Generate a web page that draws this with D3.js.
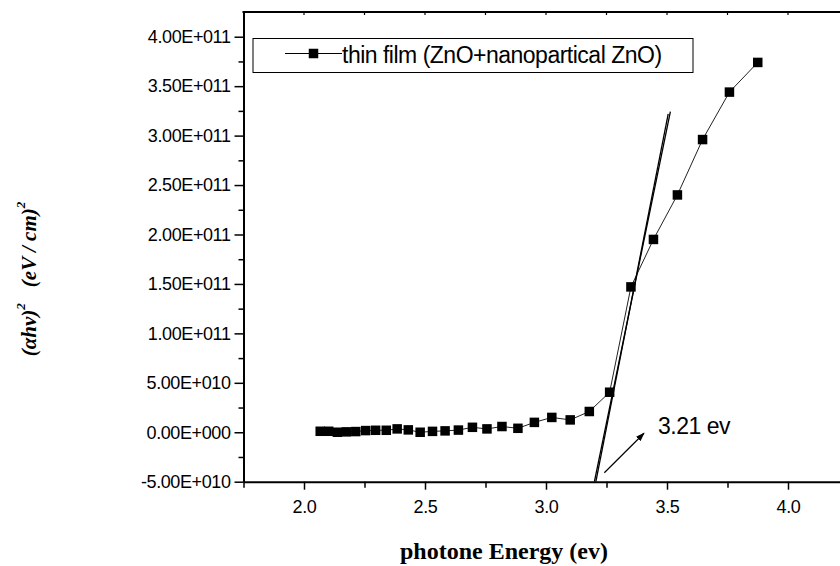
<!DOCTYPE html>
<html>
<head>
<meta charset="utf-8">
<script src="https://cdn.jsdelivr.net/npm/d3@7/dist/d3.min.js"></script>
<style>
  body { margin: 0; background: #fff; }
  svg { display: block; }
  .tick text { font-family: "Liberation Sans", Arial, sans-serif; font-size: 18px; letter-spacing: -0.4px; fill: #000; }
</style>
</head>
<body>
<script>
'use strict';

// photon energy (eV) and (alpha h nu)^2
const energy = [2.067, 2.102, 2.138, 2.175, 2.214, 2.255, 2.296, 2.340, 2.385, 2.431,
  2.480, 2.531, 2.583, 2.638, 2.696, 2.756, 2.818, 2.884, 2.952, 3.024,
  3.100, 3.179, 3.263, 3.351, 3.444, 3.543, 3.647, 3.758, 3.875];
const absorb = [0.10e10, 0.10e10, 0.00e10, 0.04e10, 0.07e10, 0.17e10, 0.20e10, 0.20e10, 0.34e10, 0.24e10,
  0.00e10, 0.09e10, 0.14e10, 0.22e10, 0.50e10, 0.34e10, 0.58e10, 0.40e10, 1.00e10, 1.50e10,
  1.25e10, 2.10e10, 4.05e10, 1.47e11, 1.95e11, 2.40e11, 2.96e11, 3.44e11, 3.74e11];

// the two hand-drawn tangent lines (energy, value)
const tangentA = [[3.200, -5e10], [3.514, 3.243e11]];
const tangentB = [[3.206, -5e10], [3.505, 3.22e11]];

// arrow and its note
const arrowFrom = [3.241, -4.09e10];
const arrowTo = [3.405, -0.1e10];
const noteAt = [3.463, -0.2e10];
const noteText = '3.21 ev';

const xTicks = [2.0, 2.5, 3.0, 3.5, 4.0];
const xMinor = [1.75, 2.25, 2.75, 3.25, 3.75];
const yTicks = [-5e10, 0, 5e10, 1e11, 1.5e11, 2e11, 2.5e11, 3e11, 3.5e11, 4e11];
const yMinor = [-2.5e10, 2.5e10, 7.5e10, 1.25e11, 1.75e11, 2.25e11, 2.75e11, 3.25e11, 3.75e11];

const seriesName = 'thin film (ZnO+nanopartical ZnO)';
const xTitle = 'photone Energy (ev)';

const width = 840;
const height = 566;

const x = d3.scaleLinear().domain([1.75, 4.25]).range([243.5, 848.5]);
const y = d3.scaleLinear().domain([-5e10, 4.25e11]).range([481.7, 12]);

function sciFormat(v) {
  if (v === 0) return '0.00E+000';
  const e = Math.floor(Math.log10(Math.abs(v)));
  const m = v / Math.pow(10, e);
  return m.toFixed(2) + 'E' + (e < 0 ? '-' : '+') + String(Math.abs(e)).padStart(3, '0');
}

const svg = d3.select('body').append('svg')
  .attr('width', width)
  .attr('height', height);

svg.append('defs').append('marker')
  .attr('id', 'head')
  .attr('viewBox', '0 0 10 10')
  .attr('refX', 9).attr('refY', 5)
  .attr('markerWidth', 9).attr('markerHeight', 9)
  .attr('markerUnits', 'userSpaceOnUse')
  .attr('orient', 'auto')
  .append('path')
  .attr('d', 'M0,1.5L10,5L0,8.5Z')
  .attr('fill', '#000');

// axes
svg.append('g')
  .attr('transform', `translate(${x(1.75)},0)`)
  .call(d3.axisLeft(y).tickValues(yTicks).tickFormat(sciFormat).tickSize(9).tickPadding(4).tickSizeOuter(0));
svg.append('g')
  .attr('transform', `translate(${x(1.75)},0)`)
  .call(d3.axisLeft(y).tickValues(yMinor).tickFormat('').tickSize(5).tickSizeOuter(0))
  .select('.domain').remove();

svg.append('g')
  .attr('transform', `translate(0,${y(-5e10)})`)
  .call(d3.axisBottom(x).tickValues(xTicks).tickFormat(d3.format('.1f')).tickSize(8).tickPadding(11).tickSizeOuter(0));
svg.append('g')
  .attr('transform', `translate(0,${y(-5e10)})`)
  .call(d3.axisBottom(x).tickValues(xMinor).tickFormat('').tickSize(6).tickSizeOuter(0))
  .select('.domain').remove();

svg.selectAll('.domain').attr('stroke', '#000').attr('stroke-width', 2);
svg.selectAll('.tick line').attr('stroke', '#000').attr('stroke-width', 1.5);

// top frame line with small ticks
svg.append('line')
  .attr('x1', x(1.75) - 1).attr('x2', width)
  .attr('y1', y(4.25e11)).attr('y2', y(4.25e11))
  .attr('stroke', '#000').attr('stroke-width', 2);
svg.append('g').selectAll('line')
  .data(xTicks.concat(xMinor).filter((d) => d > 1.8))
  .enter().append('line')
  .attr('x1', (d) => x(d)).attr('x2', (d) => x(d))
  .attr('y1', y(4.25e11)).attr('y2', y(4.25e11) + 3)
  .attr('stroke', '#000').attr('stroke-width', 1.2);

// data line and markers
const pts = energy.map((e, i) => [e, absorb[i]]);
const line = d3.line().x((d) => x(d[0])).y((d) => y(d[1]));

svg.append('path')
  .datum(pts)
  .attr('d', line)
  .attr('fill', 'none')
  .attr('stroke', '#222')
  .attr('stroke-width', 1);

const ms = 9.5;
svg.append('g').selectAll('rect')
  .data(pts)
  .enter().append('rect')
  .attr('x', (d) => x(d[0]) - ms / 2)
  .attr('y', (d) => y(d[1]) - ms / 2)
  .attr('width', ms).attr('height', ms)
  .attr('fill', '#000');

// tangents
for (const t of [tangentA, tangentB]) {
  svg.append('path')
    .datum(t)
    .attr('d', line)
    .attr('fill', 'none')
    .attr('stroke', '#000')
    .attr('stroke-width', 1.3);
}

// arrow + note
svg.append('line')
  .attr('x1', x(arrowFrom[0])).attr('y1', y(arrowFrom[1]))
  .attr('x2', x(arrowTo[0])).attr('y2', y(arrowTo[1]))
  .attr('stroke', '#000').attr('stroke-width', 1.2)
  .attr('marker-end', 'url(#head)');
svg.append('text')
  .attr('x', x(noteAt[0])).attr('y', y(noteAt[1]))
  .attr('font-family', '"Liberation Sans", Arial, sans-serif')
  .attr('font-size', 23).attr('letter-spacing', -0.5)
  .text(noteText);

// legend
const lg = svg.append('g');
lg.append('rect')
  .attr('x', 253).attr('y', 38.5).attr('width', 440).attr('height', 34)
  .attr('fill', '#fff').attr('stroke', '#000').attr('stroke-width', 1);
lg.append('line')
  .attr('x1', 285).attr('x2', 342).attr('y1', 53.5).attr('y2', 53.5)
  .attr('stroke', '#000').attr('stroke-width', 1);
lg.append('rect')
  .attr('x', 313.5 - ms / 2).attr('y', 53.5 - ms / 2).attr('width', ms).attr('height', ms)
  .attr('fill', '#000');
lg.append('text')
  .attr('x', 342).attr('y', 62.5)
  .attr('font-family', '"Liberation Sans", Arial, sans-serif')
  .attr('font-size', 23).attr('letter-spacing', -0.5)
  .text(seriesName);

// axis titles
svg.append('text')
  .attr('x', 504).attr('y', 559)
  .attr('text-anchor', 'middle')
  .attr('font-family', '"Liberation Serif", "Times New Roman", serif')
  .attr('font-weight', 'bold')
  .attr('font-size', 24)
  .text(xTitle);

const yt = svg.append('text')
  .attr('transform', 'translate(36,279) rotate(-90)')
  .attr('text-anchor', 'middle')
  .attr('font-family', '"Liberation Serif", "Times New Roman", serif')
  .attr('font-weight', 'bold')
  .attr('font-style', 'italic')
  .attr('font-size', 21);
yt.append('tspan').text('(\u03b1h\u03bd)');
yt.append('tspan').attr('dy', -11).attr('font-size', 13).text('2');
yt.append('tspan').attr('dy', 11).attr('dx', 16).text('(eV / cm)');
yt.append('tspan').attr('dy', -11).attr('font-size', 13).text('2');
</script>
</body>
</html>
